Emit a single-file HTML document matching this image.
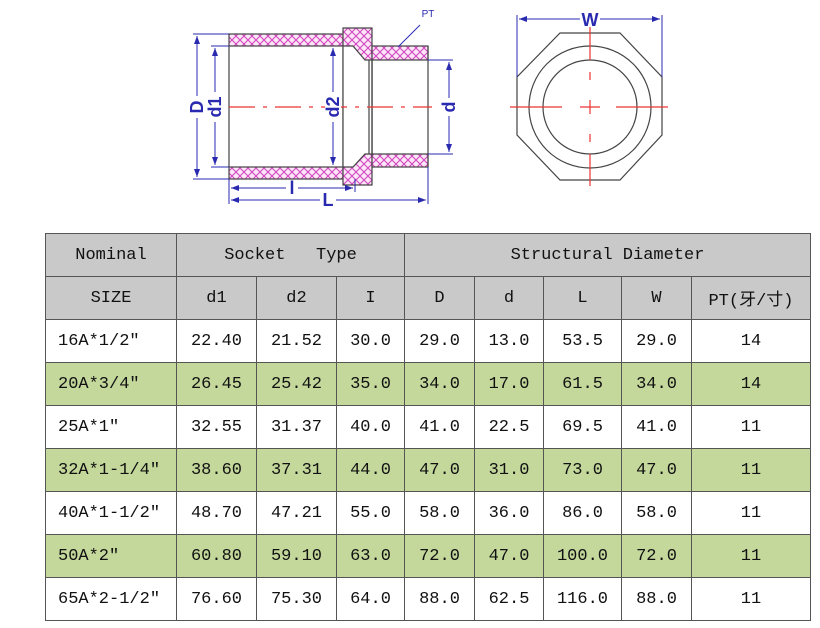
<!DOCTYPE html>
<html><head><meta charset="utf-8"><style>
body{margin:0;width:820px;height:628px;background:#fff;position:relative;overflow:hidden}
svg{position:absolute;left:0;top:0}
table{position:absolute;left:45px;top:233px;border-collapse:collapse;font-family:"Liberation Mono","Noto Sans CJK SC",monospace;font-size:17px;color:#111}
td{border:1.5px solid #555;height:42px;padding:0;text-align:center}
tr.h td{background:#c9c9c9}
tr.g td{background:#c4d89c}
td.l{text-align:left;padding-left:12px}
</style></head><body>
<svg width="820" height="230" viewBox="0 0 820 230">
<defs>
<pattern id="ht" width="8" height="8" patternUnits="userSpaceOnUse">
<rect width="8" height="8" fill="#fbe6f6"/>
<path d="M0 0L8 8M8 0L0 8" stroke="#d23fc0" stroke-width="1"/>
</pattern>
<marker id="a" markerWidth="8" markerHeight="6" refX="8" refY="3" orient="auto-start-reverse"><path d="M0 0L8 3L0 6z" fill="#2a2ab0"/></marker>
</defs>
<g stroke="#444" stroke-width="1.2">
<rect x="229" y="34" width="114" height="12" fill="url(#ht)"/>
<rect x="229" y="167" width="114" height="12" fill="url(#ht)"/>
<path d="M343 28H372V185H343Z" fill="url(#ht)"/>
<path d="M343 46H353L365 60H372V154H365L353 167H343Z" fill="#fff"/>
<rect x="372" y="46" width="56" height="14" fill="url(#ht)"/>
<rect x="372" y="154" width="56" height="13" fill="url(#ht)"/>
<path d="M372 60V154M428 46V167M229 46V167" fill="none"/>
<path d="M369 60V154" fill="none"/>
</g>
<line x1="229" y1="107" x2="432" y2="107" stroke="#e33" stroke-width="1.2" stroke-dasharray="26,8,4,8"/>
<g stroke="#2a2ab0" stroke-width="1" fill="none">
<path d="M193 34H229M193 179H229M211 46H229M211 167H229M428 60H453M428 154H453M229 179V204M428 167V204M355 179V192"/>
<line x1="197" y1="36" x2="197" y2="177" marker-start="url(#a)" marker-end="url(#a)"/>
<line x1="215" y1="48" x2="215" y2="165" marker-start="url(#a)" marker-end="url(#a)"/>
<line x1="333" y1="48" x2="333" y2="165" marker-start="url(#a)" marker-end="url(#a)"/>
<line x1="449" y1="62" x2="449" y2="152" marker-start="url(#a)" marker-end="url(#a)"/>
<line x1="231" y1="188" x2="353" y2="188" marker-start="url(#a)" marker-end="url(#a)"/>
<line x1="231" y1="200" x2="426" y2="200" marker-start="url(#a)" marker-end="url(#a)"/>
<path d="M420 25L398 47"/>
</g>
<g fill="#2a2ab0" font-family="Liberation Sans,sans-serif" font-weight="bold" font-size="18" text-anchor="middle">
<rect x="188" y="96" width="18" height="22" fill="#fff"/><text transform="translate(203,107) rotate(-90)">D</text>
<rect x="207" y="92" width="16" height="30" fill="#fff"/><text transform="translate(221,107) rotate(-90)">d1</text>
<rect x="325" y="92" width="16" height="30" fill="#fff"/><text transform="translate(339,107) rotate(-90)">d2</text>
<rect x="441" y="98" width="16" height="18" fill="#fff"/><text transform="translate(455,107) rotate(-90)">d</text>
<rect x="286" y="180" width="12" height="16" fill="#fff"/><text x="292" y="194">l</text>
<rect x="320" y="192" width="16" height="16" fill="#fff"/><text x="328" y="206">L</text>
<text x="428" y="17" font-size="10" font-weight="normal">PT</text>
</g>
<g stroke="#444" stroke-width="1.2" fill="none">
<path d="M560 33H620L662 77V135L620 180H560L517 135V77Z"/>
<circle cx="590" cy="107" r="61"/>
<circle cx="590" cy="107" r="47"/>
</g>
<g stroke="#e33" stroke-width="1.2">
<path d="M590 27V60M590 72V80M590 100V114M590 134V142M590 154V186M510 107H562M580 107H600M616 107H668"/>
</g>
<g stroke="#2a2ab0" stroke-width="1">
<path d="M517 15V77M662 15V77"/>
<line x1="519" y1="19" x2="580" y2="19" marker-start="url(#a)"/>
<line x1="600" y1="19" x2="660" y2="19" marker-end="url(#a)"/>
</g>
<text x="590" y="26" fill="#2a2ab0" font-family="Liberation Sans,sans-serif" font-weight="bold" font-size="18" text-anchor="middle">W</text>
</svg>
<table>
<colgroup><col style="width:131px"><col style="width:80px"><col style="width:80px"><col style="width:68px"><col style="width:70px"><col style="width:69px"><col style="width:78px"><col style="width:70px"><col style="width:119px"></colgroup>
<tr class="h"><td>Nominal</td><td colspan="3">Socket &nbsp;&nbsp;Type</td><td colspan="5">Structural Diameter</td></tr>
<tr class="h"><td>SIZE</td><td>d1</td><td>d2</td><td>I</td><td>D</td><td>d</td><td>L</td><td>W</td><td>PT(牙/寸)</td></tr>
<tr><td class="l">16A*1/2″</td><td>22.40</td><td>21.52</td><td>30.0</td><td>29.0</td><td>13.0</td><td>53.5</td><td>29.0</td><td>14</td></tr>
<tr class="g"><td class="l">20A*3/4″</td><td>26.45</td><td>25.42</td><td>35.0</td><td>34.0</td><td>17.0</td><td>61.5</td><td>34.0</td><td>14</td></tr>
<tr><td class="l">25A*1″</td><td>32.55</td><td>31.37</td><td>40.0</td><td>41.0</td><td>22.5</td><td>69.5</td><td>41.0</td><td>11</td></tr>
<tr class="g"><td class="l">32A*1-1/4″</td><td>38.60</td><td>37.31</td><td>44.0</td><td>47.0</td><td>31.0</td><td>73.0</td><td>47.0</td><td>11</td></tr>
<tr><td class="l">40A*1-1/2″</td><td>48.70</td><td>47.21</td><td>55.0</td><td>58.0</td><td>36.0</td><td>86.0</td><td>58.0</td><td>11</td></tr>
<tr class="g"><td class="l">50A*2″</td><td>60.80</td><td>59.10</td><td>63.0</td><td>72.0</td><td>47.0</td><td>100.0</td><td>72.0</td><td>11</td></tr>
<tr><td class="l">65A*2-1/2″</td><td>76.60</td><td>75.30</td><td>64.0</td><td>88.0</td><td>62.5</td><td>116.0</td><td>88.0</td><td>11</td></tr>
</table>
</body></html>
